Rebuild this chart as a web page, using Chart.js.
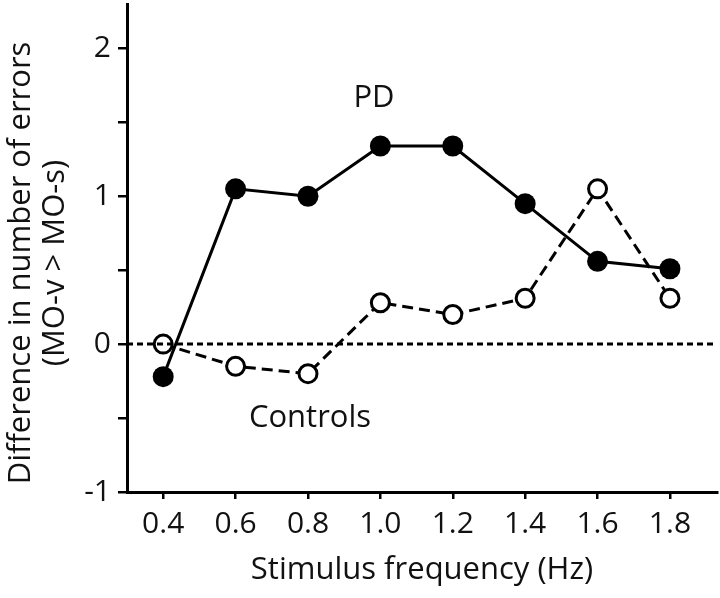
<!DOCTYPE html>
<html>
<head>
<meta charset="utf-8">
<script src="https://cdn.jsdelivr.net/npm/chart.js@4.4.1/dist/chart.umd.min.js"></script>
<style>
  body { margin: 0; background: #fff; }
  #wrap { width: 720px; height: 598px; }
</style>
</head>
<body>
<div id="wrap"><canvas id="myChart" width="720" height="598"></canvas></div>
<script>
// values
const freqs = [0.4, 0.6, 0.8, 1.0, 1.2, 1.4, 1.6, 1.8];
const pdValues = [-0.22, 1.05, 1.0, 1.34, 1.34, 0.95, 0.56, 0.51];
const controlValues = [0.0, -0.15, -0.2, 0.28, 0.2, 0.31, 1.05, 0.31];
const xTicks = [0.4, 0.6, 0.8, 1.0, 1.2, 1.4, 1.6, 1.8];
const yTicks = [-1, -0.5, 0, 0.5, 1, 1.5, 2];
const xMin = 0.3, xMax = 1.93;
const yMin = -1, yMax = 2.3;

const FONT = '"Open Sans", sans-serif';
const FSIZE = 31;
const TICKSIZE = 30;

const toPoints = (vals) => freqs.map((f, i) => ({x: f, y: vals[i]}));

function rotText(c, txt, x, y) {
    c.save();
    c.translate(x, y);
    c.rotate(-Math.PI / 2);
    c.fillText(txt, 0, 0);
    c.restore();
}

// free text on the plot: series names and the two-line y title
const labelsPlugin = {
    id: 'labels',
    afterDraw(chart) {
        const c = chart.ctx;
        c.save();
        c.fillStyle = '#111';
        c.font = FSIZE + 'px ' + FONT;
        c.textAlign = 'center';
        c.textBaseline = 'middle';
        c.fillText('PD', 374, 98);
        c.fillText('Controls', 310, 418);
        rotText(c, 'Difference in number of errors', 21, 263);
        rotText(c, '(MO-v > MO-s)', 55, 263);
        c.restore();
    }
};

const ctx = document.getElementById('myChart').getContext('2d');
const myChart = new Chart(ctx, {
    type: 'line',
    data: {
        datasets: [{
            label: 'zero',
            data: [{x: xMin, y: 0}, {x: xMax, y: 0}],
            borderColor: '#000',
            borderWidth: 3,
            borderDash: [6, 4],
            pointRadius: 0
        }, {
            label: 'Controls',
            data: toPoints(controlValues),
            borderColor: '#000',
            borderWidth: 3,
            borderDash: [11, 6],
            pointRadius: 9,
            pointBorderWidth: 3,
            pointBackgroundColor: '#fff',
            pointBorderColor: '#000'
        }, {
            label: 'PD',
            data: toPoints(pdValues),
            borderColor: '#000',
            borderWidth: 3,
            pointRadius: 10.5,
            pointBorderWidth: 0,
            pointBackgroundColor: '#000',
            pointBorderColor: '#000'
        }]
    },
    options: {
        responsive: false,
        animation: false,
        layout: { autoPadding: false, padding: {top: 4, right: 3, left: 0, bottom: 0} },
        plugins: {
            legend: { display: false },
            tooltip: { enabled: false }
        },
        scales: {
            x: {
                type: 'linear',
                min: xMin,
                max: xMax,
                afterFit: s => { s.height = 106; s.paddingLeft = 0; s.paddingRight = 0; },
                afterBuildTicks: s => { s.ticks = xTicks.map(v => ({value: v})); },
                ticks: {
                    color: '#111',
                    font: {family: FONT, size: TICKSIZE},
                    padding: 7,
                    maxRotation: 0,
                    autoSkip: false,
                    callback: v => v.toFixed(1)
                },
                grid: {
                    drawOnChartArea: false,
                    color: '#000',
                    lineWidth: 2.5,
                    tickLength: 7
                },
                border: { color: '#000', width: 3 },
                title: {
                    display: true,
                    text: 'Stimulus frequency (Hz)',
                    color: '#111',
                    font: {family: FONT, size: FSIZE},
                    padding: {top: 0, bottom: 9}
                }
            },
            y: {
                min: yMin,
                max: yMax,
                afterFit: s => { s.width = 127; s.paddingTop = 0; s.paddingBottom = 0; },
                afterBuildTicks: s => { s.ticks = yTicks.map(v => ({value: v})); },
                ticks: {
                    color: '#111',
                    font: {family: FONT, size: TICKSIZE},
                    padding: 7,
                    autoSkip: false,
                    callback: v => Number.isInteger(v) ? String(v) : ''
                },
                grid: {
                    drawOnChartArea: false,
                    color: '#000',
                    lineWidth: 2.5,
                    tickLength: 9
                },
                border: { color: '#000', width: 3 }
            }
        }
    },
    plugins: [labelsPlugin]
});
</script>
</body>
</html>
